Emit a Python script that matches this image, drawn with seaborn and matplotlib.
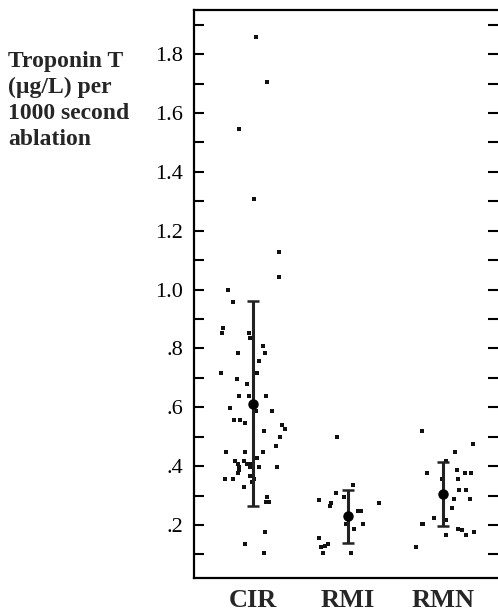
import numpy as np
import pandas as pd
import matplotlib
matplotlib.use("Agg")
import matplotlib.pyplot as plt
import seaborn as sns

groups = ["CIR", "RMI", "RMN"]

cir_values = [1.858, 1.705, 1.546, 1.308, 1.129, 1.044, 0.997, 0.959, 0.868, 0.854,
              0.854, 0.834, 0.807, 0.786, 0.786, 0.756, 0.715, 0.715, 0.695, 0.678,
              0.637, 0.637, 0.637, 0.597, 0.586, 0.586, 0.556, 0.556, 0.546, 0.539,
              0.525, 0.519, 0.498, 0.468, 0.447, 0.447, 0.447, 0.427, 0.417, 0.417,
              0.407, 0.407, 0.407, 0.397, 0.397, 0.397, 0.397, 0.386, 0.376, 0.366,
              0.356, 0.356, 0.356, 0.356, 0.346, 0.329, 0.295, 0.278, 0.278, 0.176,
              0.136, 0.105]
rmi_values = [0.498, 0.336, 0.308, 0.295, 0.285, 0.275, 0.275, 0.264, 0.247, 0.247,
              0.203, 0.203, 0.186, 0.156, 0.156, 0.136, 0.129, 0.126, 0.105, 0.105]
rmn_values = [0.519, 0.475, 0.447, 0.417, 0.386, 0.376, 0.376, 0.376, 0.356, 0.356,
              0.319, 0.319, 0.288, 0.288, 0.258, 0.224, 0.217, 0.203, 0.203, 0.186,
              0.183, 0.176, 0.166, 0.166, 0.126]

# mean and error bar ends
means = [0.61, 0.23, 0.305]
lower = [0.265, 0.14, 0.195]
upper = [0.96, 0.32, 0.415]

ytick_values = [0.2, 0.4, 0.6, 0.8, 1.0, 1.2, 1.4, 1.6, 1.8]
ytick_labels = [".2", ".4", ".6", ".8", "1.0", "1.2", "1.4", "1.6", "1.8"]
yminor_values = [0.1, 0.3, 0.5, 0.7, 0.9, 1.1, 1.3, 1.5, 1.7, 1.9]

df = pd.DataFrame({
    "group": ["CIR"] * len(cir_values) + ["RMI"] * len(rmi_values) + ["RMN"] * len(rmn_values),
    "value": cir_values + rmi_values + rmn_values,
})

sns.set_style("white")
plt.rcParams["font.family"] = ["Liberation Serif", "DejaVu Serif"]

np.random.seed(3)
fig = plt.figure(figsize=(4.98, 6.13), dpi=100)
ax = fig.add_axes([0.3896, 0.0571, 0.6104, 0.9266])

sns.stripplot(data=df, x="group", y="value", order=groups, jitter=0.35,
              color="#111111", marker="s", size=2.2, linewidth=0, ax=ax)

ax.errorbar(range(len(groups)), means,
            yerr=[np.array(means) - np.array(lower), np.array(upper) - np.array(means)],
            fmt="o", color="black", ecolor="#222222", markersize=6.5,
            elinewidth=2.2, capsize=4.5, capthick=1.8, zorder=5)

ax.set_xlim(-0.62, 2.58)
ax.set_ylim(0.02, 1.95)
ax.set_yticks(ytick_values)
ax.set_yticklabels(ytick_labels, fontsize=16)
ax.set_yticks(yminor_values, minor=True)
ax.set_xticks(range(len(groups)))
ax.set_xticklabels(groups, fontsize=19, fontweight="bold")
ax.set_xlabel("")
ax.set_ylabel("")

ax.tick_params(axis="y", which="both", direction="in", length=7, width=1.5,
               left=True, right=True, pad=8, colors="black")
ax.tick_params(axis="x", length=0, pad=8)
for side in ["left", "top", "bottom"]:
    ax.spines[side].set_linewidth(1.6)
    ax.spines[side].set_color("black")
ax.spines["right"].set_visible(False)

fig.text(8 / 498, 1 - 51 / 613, "Troponin T\n(\u00b5g/L) per\n1000 second\nablation",
         ha="left", va="top", fontsize=17, fontweight="bold", linespacing=1.3)

fig.savefig("out.png", dpi=100)
